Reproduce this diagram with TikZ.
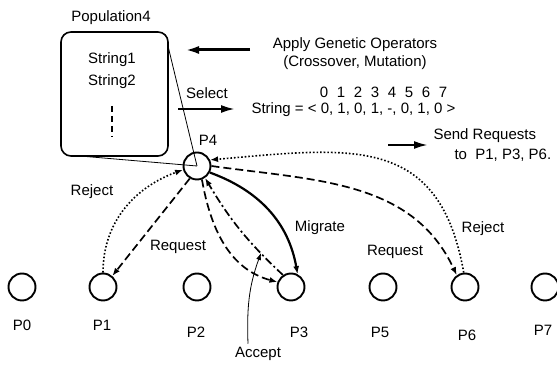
\documentclass[tikz,border=0pt]{standalone}
\usepackage{fontspec}
\setmainfont{Liberation Sans}
\usetikzlibrary{arrows.meta,calc}

\begin{document}
\begin{tikzpicture}[x=1pt,y=1pt,font=\fontsize{15}{18}\selectfont,>={Latex[length=8pt,width=6pt]},
  proc/.style={circle,draw,line width=1.9pt,minimum size=27pt,inner sep=0pt},
  msg/.style={->,line width=1.7pt},
  req/.style={msg,dash pattern=on 8pt off 4pt},
  rej/.style={msg,line width=1.6pt,dotted},
  acc/.style={msg,dash pattern=on 8pt off 3pt on 2pt off 3pt},
  mig/.style={msg,line width=2.2pt},
  bigarrow/.style={-{Latex[length=14pt,width=8pt]},line width=3pt}]
\useasboundingbox (0,0) rectangle (557,366);

\node[draw,rounded corners=10pt,line width=1.6pt,minimum width=107pt,minimum height=124pt] (pop) at (114.5,272) {};
\node (poptitle) at (111,348) {Population4};
\node (s1) at (112,306) {String1};
\node (s2) at (112,284) {String2};
\draw[line width=2pt,dash pattern=on 6pt off 4pt] (112,260) -- (112,229);

\node[proc] (p4) at (197,200) {};
\node (lp4) at (208,226) {P4};
\coordinate (lensA) at (168,320);
\coordinate (lensB) at (80,210);
\draw[line width=0.8pt] (lensA) -- (p4.center);
\draw[line width=0.8pt] (lensB) -- (p4.center);

\node[align=center] (apply) at (355,312) {Apply Genetic Operators\\(Crossover, Mutation)};
\coordinate (opA) at (250,316);
\coordinate (opB) at (185,316);
\draw[bigarrow] (opA) -- (opB);

\node (sel) at (207,273) {Select};
\coordinate (selA) at (178,257);
\coordinate (selB) at (235,257);
\draw[bigarrow,line width=2.2pt] (selA) -- (selB);
\foreach \i in {0,...,7}
  \node (idx\i) at (324+17*\i,274) {\i};
\node (str) at (353.5,256) {String = < 0, 1, 0, 1, -, 0, 1, 0 >};

\coordinate (sndA) at (388,221);
\coordinate (sndB) at (428,221);
\draw[bigarrow,line width=2.2pt] (sndA) -- (sndB);
\node[anchor=west] (send1) at (430,230) {Send Requests};
\node[anchor=west] (send2) at (451,211) {to\ \ P1, P3, P6.};

\node[proc] (p0) at (22,79) {};
\node[proc] (p1) at (103,79) {};
\node[proc] (p2) at (197,79) {};
\node[proc] (p3) at (291,79) {};
\node[proc] (p5) at (383,79) {};
\node[proc] (p6) at (465,79) {};
\node[proc] (p7) at (545,79) {};
\node (l0) at (22,41) {P0};
\node (l1) at (102,41) {P1};
\node (l2) at (196,34) {P2};
\node (l3) at (299,34) {P3};
\node (l5) at (380,34) {P5};
\node (l6) at (467,31) {P6};
\node (l7) at (543,36) {P7};

\draw[rej] (p1.north) to[out=90,in=200] (p4.195);
\draw[req] (p4.240) -- (p1.50);
\draw[req] (p4.290) to[out=-80,in=165] (p3.160);
\draw[acc] (p3.124) to[bend left=8] (p4.304);
\draw[mig] (p4.333) to[out=-20,in=100] (p3.63);
\draw[req] (p4.east) to[out=-8,in=115] (p6.125);
\draw[rej] (p6.95) to[out=100,in=5,looseness=1.3] (p4.25);

\node (rejL) at (92,174) {Reject};
\node (reqL) at (178,119) {Request};
\node (migL) at (320,138) {Migrate};
\node (reqR) at (395,114) {Request};
\node (rejR) at (483,137) {Reject};

\node (accept) at (258,12) {Accept};
\coordinate (accTip) at (261,113);
\draw[->,line width=0.8pt,>={Latex[length=7pt,width=5pt]}] ([xshift=-10pt]accept.north) to[out=92,in=250] (accTip);
\end{tikzpicture}
\end{document}
